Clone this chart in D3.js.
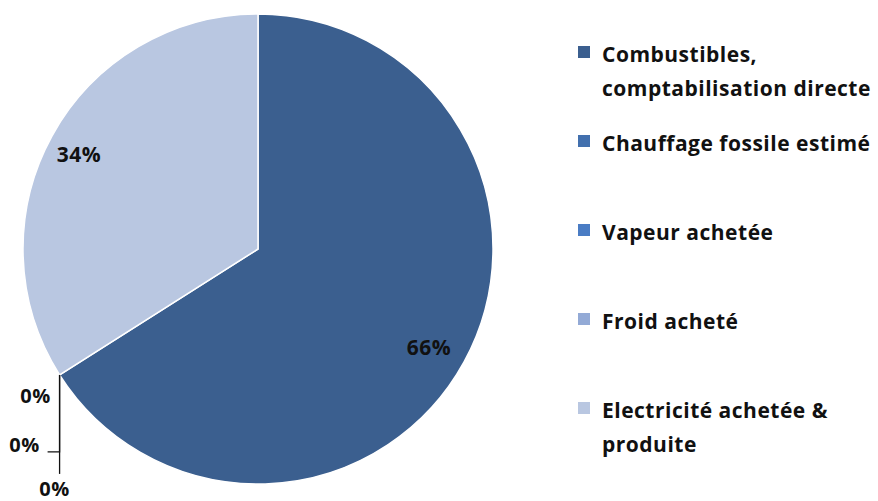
<!DOCTYPE html>
<html>
<head>
<meta charset="utf-8">
<script src="https://cdn.jsdelivr.net/npm/d3@7"></script>
<style>
  body { margin: 0; background: white; }
  svg { display: block; font-family: "Open Sans", Lato, sans-serif; font-weight: bold; }
</style>
</head>
<body>
<svg width="878" height="501"></svg>
<script>
// === Data

const CATEGORIES = ['Combustibles, comptabilisation directe', 'Chauffage fossile estimé', 'Vapeur achetée', 'Froid acheté', 'Electricité achetée & produite'];
const LEGEND_LINES = [['Combustibles,', 'comptabilisation directe'], ['Chauffage fossile estimé'], ['Vapeur achetée'], ['Froid acheté'], ['Electricité achetée &', 'produite']];
const VALUES = [66, 0, 0, 0, 34];
const LABELS = ['66%', '0%', '0%', '0%', '34%'];
const COLORS = ['#3b5f8f', '#4270ae', '#4a7cc4', '#93aad6', '#b9c7e1'];

// === Layout

const CENTER = { x: 258, y: 249 };
const RADIUS = 235;
const LEGEND = { x: 578, y: 46, rowStep: 89, lineHeight: 34, box: 12 };
const FONT_SIZE = 21;
const SPACING = 0.5;

const svg = d3.select('svg');

const pie = d3.pie().sort(null).value(d => d.value);
const arcs = pie(CATEGORIES.map((c, i) => ({ name: c, value: VALUES[i], label: LABELS[i], color: COLORS[i] })));
const arc = d3.arc().innerRadius(0).outerRadius(RADIUS);
const labelArc = d3.arc().innerRadius(RADIUS * 0.84).outerRadius(RADIUS * 0.84);

const chart = svg.append('g').attr('transform', `translate(${CENTER.x},${CENTER.y})`);

chart.selectAll('path.slice')
  .data(arcs.filter(d => d.value > 0))
  .enter().append('path')
  .attr('class', 'slice')
  .attr('d', arc)
  .attr('fill', d => d.data.color)
  .attr('stroke', 'white')
  .attr('stroke-width', 1.5);

// big slice labels
chart.selectAll('text.big')
  .data(arcs.filter(d => d.value > 0))
  .enter().append('text')
  .attr('class', 'big')
  .attr('transform', d => `translate(${labelArc.centroid(d)})`)
  .attr('dx', d => d.data.label === '66%' ? -2 : -6)
  .attr('dy', d => d.data.label === '66%' ? '0.5em' : '0.4em')
  .attr('text-anchor', 'middle')
  .attr('font-size', FONT_SIZE)
  .attr('letter-spacing', SPACING)
  .attr('fill', '#111')
  .text(d => d.data.label);

// zero slices: leader lines going down from the arc edge
const zeros = arcs.filter(d => d.value === 0);
const ZERO_OFFSETS = [
  { line: [[0, 0]], text: [-24, 28] },
  { line: [[0, 77], [-12, 77]], text: [-35, 77] },
  { line: [[0, 99]], text: [-5, 121] }
];
zeros.forEach(function(d, i) {
  const a = d.startAngle;
  const p0 = [Math.sin(a) * RADIUS, -Math.cos(a) * RADIUS];
  const o = ZERO_OFFSETS[i];
  const pts = [p0].concat(o.line.map(q => [p0[0] + q[0], p0[1] + q[1]]));
  if (pts.length > 2 || o.line[0][1] !== 0) {
    chart.append('path')
      .attr('d', d3.line()(pts))
      .attr('fill', 'none')
      .attr('stroke', '#111')
      .attr('stroke-width', 1.3);
  }
  chart.append('text')
    .attr('x', p0[0] + o.text[0])
    .attr('y', p0[1] + o.text[1])
    .attr('text-anchor', 'middle')
    .attr('font-size', FONT_SIZE - 1)
    .attr('letter-spacing', SPACING)
    .attr('fill', '#111')
    .text(d.data.label);
});

// === Legend

const legend = svg.append('g');
LEGEND_LINES.forEach(function(lines, i) {
  const y = LEGEND.y + i * LEGEND.rowStep;
  legend.append('rect')
    .attr('x', LEGEND.x)
    .attr('y', y)
    .attr('width', LEGEND.box)
    .attr('height', LEGEND.box)
    .attr('fill', COLORS[i]);
  const t = legend.append('text')
    .attr('x', LEGEND.x + 24)
    .attr('y', y + 16)
    .attr('font-size', FONT_SIZE)
    .attr('letter-spacing', SPACING)
    .attr('fill', '#111');
  lines.forEach((l, j) => t.append('tspan').attr('x', LEGEND.x + 24).attr('dy', j ? LEGEND.lineHeight : 0).text(l));
});
</script>
</body>
</html>
